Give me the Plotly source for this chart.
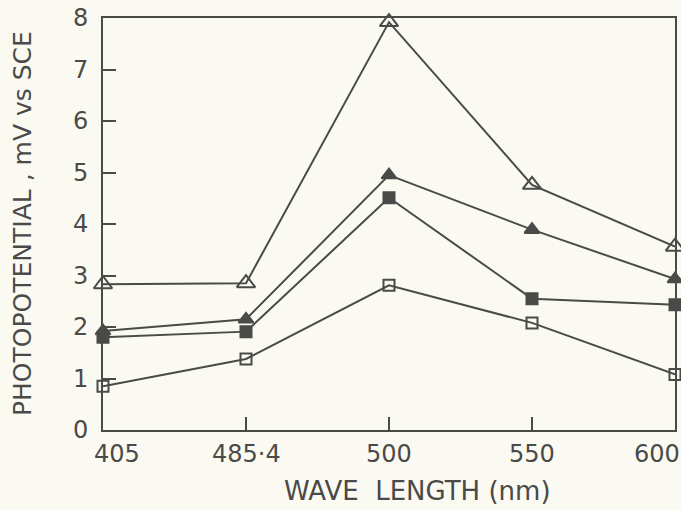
import plotly.graph_objects as go

categories = ["405", "485·4", "500", "550", "600"]
open_triangle = [2.83, 2.85, 7.92, 4.76, 3.56]
filled_triangle = [1.92, 2.15, 4.95, 3.89, 2.93]
filled_square = [1.80, 1.91, 4.51, 2.55, 2.43]
open_square = [0.85, 1.38, 2.81, 2.08, 1.08]
y_ticks = [0, 1, 2, 3, 4, 5, 6, 7, 8]

INK = "#4a4a48"
BG = "#fbfaf2"
FONT = "DejaVu Sans, sans-serif"

xi = list(range(len(categories)))

fig = go.Figure()
series = [
    (open_triangle, "triangle-up-open", 16),
    (filled_triangle, "triangle-up", 13),
    (filled_square, "square", 11),
    (open_square, "square-open", 11),
]
for vals, sym, sz in series:
    fig.add_trace(go.Scatter(
        x=xi, y=vals, mode="lines+markers",
        line=dict(color=INK, width=2),
        marker=dict(symbol=sym, size=sz, color=INK,
                    line=dict(color=INK, width=2)),
        showlegend=False, cliponaxis=False,
    ))

# x tick labels as annotations (end labels offset inward as in the original)
shifts = [14, 0, 0, 0, -18]
for i, (lab, sh) in enumerate(zip(categories, shifts)):
    fig.add_annotation(x=i, y=0, xref="x", yref="paper", text=lab, showarrow=False,
                       yanchor="top", yshift=-8, xshift=sh,
                       font=dict(family=FONT, size=24, color=INK))

fig.add_annotation(x=0.5, y=0, xref="paper", yref="paper", text="WAVE  LENGTH (nm)",
                   showarrow=False, yanchor="middle", yshift=-61, xshift=28,
                   font=dict(family=FONT, size=26, color=INK))
fig.add_annotation(x=0, y=0.5, xref="paper", yref="paper", text="PHOTOPOTENTIAL , mV vs SCE",
                   showarrow=False, textangle=-90, xanchor="center", xshift=-81,
                   font=dict(family=FONT, size=25, color=INK))

fig.update_layout(
    width=681, height=510,
    margin=dict(l=103, r=4, t=15, b=80),
    paper_bgcolor=BG, plot_bgcolor=BG,
    font=dict(family=FONT, size=24, color=INK),
    xaxis=dict(range=[0, 4], tickvals=[1, 2, 3], ticktext=["", "", ""],
               ticks="inside", ticklen=13, tickwidth=2, tickcolor=INK,
               showline=True, linecolor=INK, linewidth=2, mirror=True,
               showgrid=False, zeroline=False),
    yaxis=dict(range=[0, 8], tickvals=y_ticks, ticktext=[str(v) for v in y_ticks],
               ticks="inside", ticklen=13, tickwidth=2, tickcolor=INK,
               showline=True, linecolor=INK, linewidth=2, mirror=True,
               showgrid=False, zeroline=False, ticklabelstandoff=8),
)

fig.write_html("out.html", config={"displayModeBar": False},
               post_script="document.body.style.margin='0';document.body.style.overflow='hidden';")
